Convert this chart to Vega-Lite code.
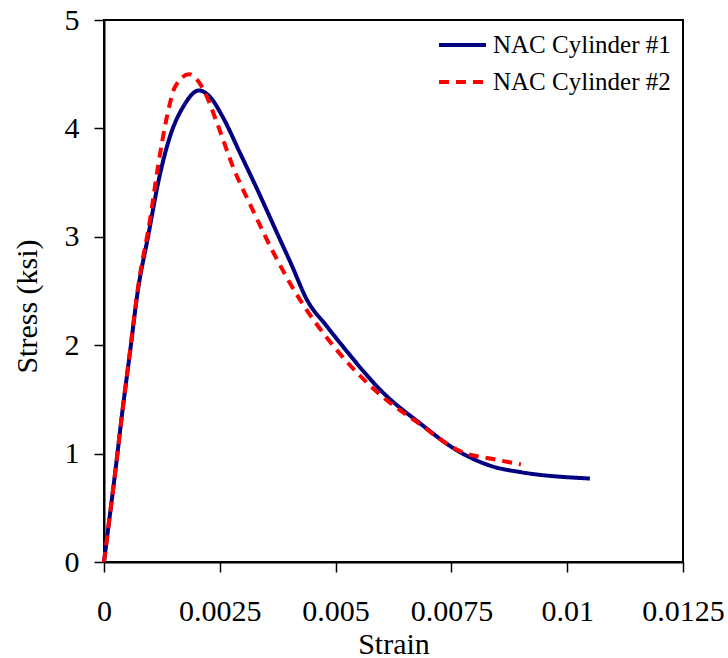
{
  "$schema": "https://vega.github.io/schema/vega-lite/v6.json",
  "width": 579,
  "height": 542,
  "autosize": {"type": "none"},
  "padding": {"left": 104, "top": 20, "right": 45, "bottom": 96},
  "background": "white",
  "data": {
    "values": [
      {"series": "NAC Cylinder #1", "strain": 0, "stress": 0},
      {"series": "NAC Cylinder #1", "strain": 0.00012, "stress": 0.41},
      {"series": "NAC Cylinder #1", "strain": 0.00024, "stress": 0.82},
      {"series": "NAC Cylinder #1", "strain": 0.0004, "stress": 1.4},
      {"series": "NAC Cylinder #1", "strain": 0.00056, "stress": 1.93},
      {"series": "NAC Cylinder #1", "strain": 0.00073, "stress": 2.5},
      {"series": "NAC Cylinder #1", "strain": 0.00095, "stress": 3.0},
      {"series": "NAC Cylinder #1", "strain": 0.00121, "stress": 3.58},
      {"series": "NAC Cylinder #1", "strain": 0.00142, "stress": 3.92},
      {"series": "NAC Cylinder #1", "strain": 0.00171, "stress": 4.2},
      {"series": "NAC Cylinder #1", "strain": 0.00205, "stress": 4.35},
      {"series": "NAC Cylinder #1", "strain": 0.00229, "stress": 4.29},
      {"series": "NAC Cylinder #1", "strain": 0.00257, "stress": 4.1},
      {"series": "NAC Cylinder #1", "strain": 0.00294, "stress": 3.77},
      {"series": "NAC Cylinder #1", "strain": 0.00337, "stress": 3.38},
      {"series": "NAC Cylinder #1", "strain": 0.00373, "stress": 3.04},
      {"series": "NAC Cylinder #1", "strain": 0.00405, "stress": 2.74},
      {"series": "NAC Cylinder #1", "strain": 0.00438, "stress": 2.42},
      {"series": "NAC Cylinder #1", "strain": 0.0048, "stress": 2.18},
      {"series": "NAC Cylinder #1", "strain": 0.00525, "stress": 1.94},
      {"series": "NAC Cylinder #1", "strain": 0.0056, "stress": 1.76},
      {"series": "NAC Cylinder #1", "strain": 0.00596, "stress": 1.59},
      {"series": "NAC Cylinder #1", "strain": 0.00682, "stress": 1.28},
      {"series": "NAC Cylinder #1", "strain": 0.00762, "stress": 1.03},
      {"series": "NAC Cylinder #1", "strain": 0.0084, "stress": 0.88},
      {"series": "NAC Cylinder #1", "strain": 0.00898, "stress": 0.83},
      {"series": "NAC Cylinder #1", "strain": 0.01049, "stress": 0.77},
      {"series": "NAC Cylinder #2", "strain": 0, "stress": 0},
      {"series": "NAC Cylinder #2", "strain": 0.00012, "stress": 0.41},
      {"series": "NAC Cylinder #2", "strain": 0.00024, "stress": 0.82},
      {"series": "NAC Cylinder #2", "strain": 0.0004, "stress": 1.4},
      {"series": "NAC Cylinder #2", "strain": 0.00056, "stress": 1.94},
      {"series": "NAC Cylinder #2", "strain": 0.00074, "stress": 2.55},
      {"series": "NAC Cylinder #2", "strain": 0.00099, "stress": 3.15},
      {"series": "NAC Cylinder #2", "strain": 0.00117, "stress": 3.66},
      {"series": "NAC Cylinder #2", "strain": 0.00136, "stress": 4.11},
      {"series": "NAC Cylinder #2", "strain": 0.00153, "stress": 4.38},
      {"series": "NAC Cylinder #2", "strain": 0.00184, "stress": 4.5},
      {"series": "NAC Cylinder #2", "strain": 0.00218, "stress": 4.33},
      {"series": "NAC Cylinder #2", "strain": 0.00244, "stress": 4.05},
      {"series": "NAC Cylinder #2", "strain": 0.00279, "stress": 3.64},
      {"series": "NAC Cylinder #2", "strain": 0.00322, "stress": 3.24},
      {"series": "NAC Cylinder #2", "strain": 0.00365, "stress": 2.86},
      {"series": "NAC Cylinder #2", "strain": 0.00423, "stress": 2.42},
      {"series": "NAC Cylinder #2", "strain": 0.00494, "stress": 2.0},
      {"series": "NAC Cylinder #2", "strain": 0.00589, "stress": 1.57},
      {"series": "NAC Cylinder #2", "strain": 0.00676, "stress": 1.29},
      {"series": "NAC Cylinder #2", "strain": 0.00775, "stress": 1.01},
      {"series": "NAC Cylinder #2", "strain": 0.0084, "stress": 0.95},
      {"series": "NAC Cylinder #2", "strain": 0.009, "stress": 0.9}
    ]
  },
  "mark": {"type": "line", "interpolate": "monotone", "strokeWidth": 4},
  "encoding": {
    "x": {
      "field": "strain",
      "type": "quantitative",
      "scale": {"domain": [0, 0.0125], "nice": false, "zero": true},
      "axis": {
        "title": "Strain",
        "values": [0, 0.0025, 0.005, 0.0075, 0.01, 0.0125],
        "format": ".4~g",
        "labelPadding": 24,
        "labelBaseline": "top",
        "titleBaseline": "alphabetic",
        "titleY": 91,
        "labelFlush": false,
        "labelOverlap": false
      }
    },
    "y": {
      "field": "stress",
      "type": "quantitative",
      "scale": {"domain": [0, 5], "nice": false},
      "axis": {
        "title": "Stress (ksi)",
        "values": [0, 1, 2, 3, 4, 5],
        "labelPadding": 15,
        "titleAngle": -90,
        "titleBaseline": "alphabetic",
        "titleAlign": "center",
        "titleX": -68,
        "titleY": 286
      }
    },
    "color": {
      "field": "series",
      "type": "nominal",
      "scale": {"domain": ["NAC Cylinder #1", "NAC Cylinder #2"], "range": ["#000080", "#ff0000"]},
      "legend": {
        "title": null,
        "orient": "none",
        "legendX": 333,
        "legendY": 10,
        "padding": 0,
        "symbolType": "stroke",
        "symbolSize": 2209,
        "symbolStrokeWidth": 4,
        "labelFont": "Liberation Serif",
        "labelFontSize": 25,
        "labelColor": "black",
        "labelOffset": 5,
        "labelLimit": 400,
        "clipHeight": 30,
        "rowPadding": 7
      }
    },
    "strokeDash": {
      "field": "series",
      "type": "nominal",
      "scale": {"domain": ["NAC Cylinder #1", "NAC Cylinder #2"], "range": [[1, 0], [10, 7]]},
      "legend": {
        "title": null,
        "orient": "none",
        "legendX": 333,
        "legendY": 10,
        "padding": 0,
        "symbolType": "stroke",
        "symbolSize": 2209,
        "symbolStrokeWidth": 4,
        "labelFont": "Liberation Serif",
        "labelFontSize": 25,
        "labelColor": "black",
        "labelOffset": 5,
        "labelLimit": 400,
        "clipHeight": 30,
        "rowPadding": 7
      }
    }
  },
  "config": {
    "view": {"stroke": "black", "strokeWidth": 2},
    "axis": {
      "grid": false,
      "domainColor": "black",
      "domainWidth": 2,
      "tickColor": "black",
      "tickWidth": 1.5,
      "tickSize": 10,
      "labelFont": "Liberation Serif",
      "labelFontSize": 30,
      "labelColor": "black",
      "titleFont": "Liberation Serif",
      "titleFontSize": 30,
      "titleFontWeight": "normal",
      "titleColor": "black"
    }
  }
}
